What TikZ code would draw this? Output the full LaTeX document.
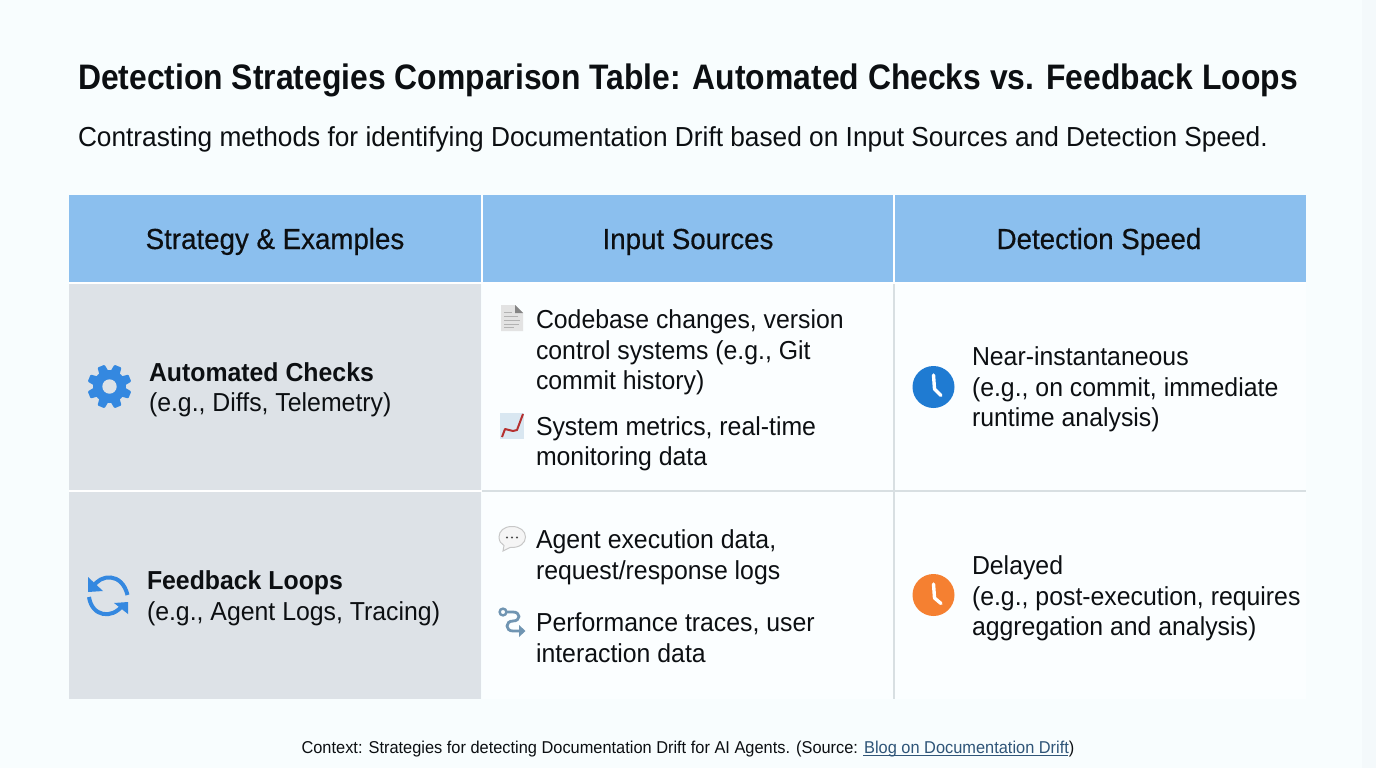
\documentclass[tikz,border=0pt]{standalone}
\usepackage{fontspec}
\setmainfont{Liberation Sans}[FakeStretch=0.955]
\newfontfamily\titlefont{Liberation Sans}[FakeStretch=0.9]
\newfontfamily\headfont{Liberation Sans}[FakeStretch=0.955,FakeBold=0.5]
\usetikzlibrary{calc}
\definecolor{pagebg}{HTML}{F8FDFE}
\definecolor{pageedge}{HTML}{F4F9FB}
\definecolor{headblue}{HTML}{8BBFEE}
\definecolor{leftgrey}{HTML}{DDE2E7}
\definecolor{cellbg}{HTML}{FBFEFF}
\definecolor{gridgrey}{HTML}{D8DFE2}
\definecolor{iconblue}{HTML}{3488E0}
\definecolor{clockblue}{HTML}{1F7BD2}
\definecolor{clockorange}{HTML}{F58031}
\definecolor{inkc}{HTML}{0C0F12}
\definecolor{routec}{HTML}{7095B2}
\definecolor{linkc}{HTML}{2F5578}
\definecolor{chartbg}{HTML}{D9E7F1}
\definecolor{chartred}{HTML}{B5302F}
\tikzset{
  x=1pt,y=-1pt,
  txt/.style={anchor=west,inner sep=0pt,outer sep=0pt,align=left,text=inkc},
  celltxt/.style={txt,font=\fontsize{26}{30.5}\selectfont},
  headtxt/.style={anchor=base,inner sep=0pt,text=inkc,font=\headfont\fontsize{29}{32}\selectfont},
  gridline/.style={draw=gridgrey,line width=1.4pt},
  whiteline/.style={draw=white,line width=2pt},
  clockhand/.style={draw=white,line width=3.4pt,line cap=round,line join=round},
}
\begin{document}
\begin{tikzpicture}
\useasboundingbox (0,0) rectangle (1376,768);
\fill[pagebg] (0,0) rectangle (1376,768);
\fill[pageedge] (1362,0) rectangle (1376,768);
% table cells
\fill[cellbg] (482,283) rectangle (1306,699);
\fill[headblue] (69,195) rectangle (1306,282);
\fill[leftgrey] (69,283) rectangle (481,490);
\fill[leftgrey] (69,492) rectangle (481,699);
% grid
\coordinate (h1) at (482,195); \coordinate (h1b) at (482,283);
\coordinate (h2) at (894,195); \coordinate (h2b) at (894,283);
\coordinate (v2e) at (894,699);
\coordinate (r1) at (482,491); \coordinate (r2) at (1306,491);
\coordinate (l1) at (69,491);
\draw[gridline] (h2b) -- (v2e);
\draw[gridline] (r1) -- (r2);
\draw[whiteline] (l1) -- (r1);
\draw[whiteline] (69,282.5) -- (1306,282.5);
\draw[whiteline] (h1) -- (h1b);
\draw[whiteline] (h2) -- (h2b);
% title
\node[txt,font=\titlefont\fontsize{35.4}{40}\selectfont\bfseries] (title) at (78,80) {Detection Strategies Comparison Table: Automated Checks vs. Feedback Loops};
\node[txt,font=\fontsize{27.5}{30}\selectfont] (subtitle) at (78,139) {Contrasting methods for identifying Documentation Drift based on Input Sources and Detection Speed.};
% headers
\node[headtxt] (hA) at (275,249) {Strategy \& Examples};
\node[headtxt] (hB) at (688,249) {Input Sources};
\node[headtxt] (hC) at (1099,249) {Detection Speed};
% left column
\node[celltxt] (autoT) at (149,390) {\textbf{Automated Checks}\\(e.g., Diffs, Telemetry)};
\node[celltxt] (feedT) at (147,598.5) {\textbf{Feedback Loops}\\(e.g., Agent Logs, Tracing)};
% input sources
\node[celltxt] (inA) at (536,352.5) {Codebase changes, version\\control systems (e.g., Git\\commit history)};
\node[celltxt] (inB) at (536,444) {System metrics, real-time\\monitoring data};
\node[celltxt] (inC) at (536,557.5) {Agent execution data,\\request/response logs};
\node[celltxt] (inD) at (536,637.5) {Performance traces, user\\interaction data};
% speed
\node[celltxt] (spA) at (972,389.5) {Near-instantaneous\\(e.g., on commit, immediate\\runtime analysis)};
\node[celltxt] (spB) at (972,598.5) {Delayed\\(e.g., post-execution, requires\\aggregation and analysis)};
% footer
\node[anchor=center,inner sep=0pt,text=inkc,font=\fontsize{17.15}{20}\selectfont] (foot) at (688,749) {Context: Strategies for detecting Documentation Drift for AI Agents. (Source: \tikz[baseline=(lnk.base)]\node[inner sep=0pt,text=linkc] (lnk) {Blog on Documentation Drift};)};
\coordinate (ulA) at (863,755);
\coordinate (ulB) at (1068,755);
\draw[linkc,line width=.9pt] (ulA) -- (ulB);
% gear icon
\begin{scope}[shift={(109.5,386.5)}]
  \foreach \a in {0,45,...,315}
    \fill[iconblue,rotate=\a+22.5,rounded corners=1pt] (-3.8,-22) -- (3.8,-22) -- (5.2,-12) -- (-5.2,-12) -- cycle;
  \fill[iconblue] (0,0) circle[radius=16.5];
  \fill[leftgrey] (0,0) circle[radius=7.2];
\end{scope}
% refresh icon
\draw[iconblue,line width=4pt] (93,587) .. controls (100,574) and (122,572) .. (127.5,595);
\fill[iconblue] (88,577) -- (88,592) -- (103,591) -- cycle;
\draw[iconblue,line width=4pt] (89,597) .. controls (92,617) and (112,619) .. (122,606);
\fill[iconblue] (128,602) -- (128,614) -- (114,603) -- cycle;
% document icon
\fill[black!11] (501,305) -- (515,305) -- (523,313) -- (523,331) -- (501,331) -- cycle;
\fill[black!48] (515,305) -- (523,313) -- (515,313) -- cycle;
\foreach \yy/\xx in {312/512,316/518,320/520,324/519,327/514}
  \draw[black!30,line width=.6pt] (504,\yy) -- (\xx,\yy);
% chart icon
\fill[chartbg] (500,413) rectangle (524,439);
\draw[chartred,line width=2pt,line join=round] (502,437) -- (505,429) -- (513,431) -- (517,430) -- (523,414);
% bubble icon
\draw[black!22,fill=black!4,line width=1pt] (512,526.5) .. controls (504,526.5) and (499,531) .. (499,537) .. controls (499,541) and (501,544) .. (504,545.5) -- (503,551) -- (510,547.5) .. controls (520,548) and (525.5,543) .. (525.5,537) .. controls (525.5,531) and (520,526.5) .. (512,526.5) -- cycle;
\foreach \xx in {507,512,517}
  \fill[black!70] (\xx,537.5) circle[radius=1.2];
% route icon
\draw[routec,line width=2.4pt] (503,612) circle[radius=3.4];
\draw[routec,line width=2.8pt,line join=round] (507,612) -- (513,612) .. controls (521,612) and (521,621) .. (513,621) .. controls (505,621) and (505,631) .. (513,631) -- (520,631);
\fill[routec] (519,625) -- (525.5,631) -- (519,637) -- cycle;
% clocks
\fill[clockblue] (933.5,387) circle[radius=21];
\draw[clockhand] (933.5,375) -- (934.5,389) -- (941,395.5);
\fill[clockorange] (933.5,595) circle[radius=21];
\draw[clockhand] (933.5,584) -- (934.5,598) -- (941,603.5);
\end{tikzpicture}
\end{document}
